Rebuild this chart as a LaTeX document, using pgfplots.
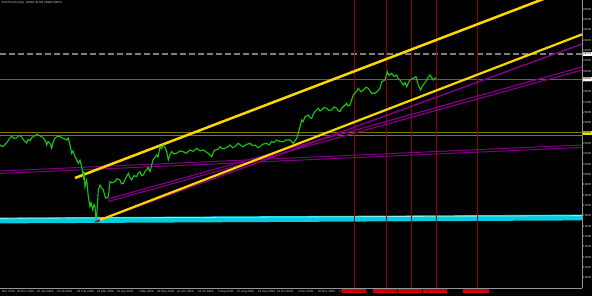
\documentclass[border=0pt]{standalone}
\usepackage{pgfplots}
\pgfplotsset{compat=1.18}
\usepackage{fontspec}
\setmainfont{Liberation Sans}
\definecolor{mtgreen}{RGB}{20,200,20}
\definecolor{mtgold}{RGB}{255,215,0}
\definecolor{mtpurple}{RGB}{128,0,128}
\definecolor{mtolive}{RGB}{128,118,0}
\definecolor{mtcyan}{RGB}{0,206,220}
\definecolor{mtcyanlight}{RGB}{150,232,242}
\definecolor{mtred}{RGB}{140,0,0}
\definecolor{boxred}{RGB}{230,0,0}
\definecolor{axgray}{RGB}{150,150,150}
\definecolor{lbl}{RGB}{200,200,200}
\begin{document}
\begin{tikzpicture}[x=1pt,y=1pt]
\path[use as bounding box, fill=black] (0,0) rectangle (592,296);
\begin{axis}[
  at={(0pt,296pt)}, anchor=north west,
  width=582pt, height=288pt, scale only axis,
  xmin=0, xmax=582, ymin=9822, ymax=37700,
  axis x line*=bottom, axis y line*=right,
  axis line style={axgray, line width=0.6pt, -},
  clip mode=individual,
  tick align=outside,
  major tick length=1.2pt,
  tick style={axgray, line width=0.4pt},
  scaled y ticks=false,
  ytick={10800,11800,12800,13800,14800,15800,16800,17800,18800,19800,20800,21800,22800,23800,25800,26800,27800,28800,29800,30800,31800,32800,33800,34800,35800,36800},
  yticklabel={\pgfmathprintnumber[fixed,precision=0,1000 sep={},assume math mode=true]{\tick}},
  yticklabel style={font=\fontsize{2.9}{3}\selectfont, text=lbl, inner sep=0.3pt, xshift=-0.5pt},
  xtick={1,16,36,56,76,96,116,137,156,176,197,217,236,257,276,297,317,338},
  xticklabels={Nov 2019,20 Dec 2019,15 Jan 2020,6 Feb 2020,28 Feb 2020,23 Mar 2020,15 Apr 2020,7 May 2020,29 May 2020,22 Jun 2020,14 Jul 2020,5 Aug 2020,27 Aug 2020,18 Sep 2020,12 Oct 2020,3 Nov 2020,25 Nov 2020,17 Dec 2020},
  xticklabel style={font=\fontsize{3}{3}\selectfont, text=lbl, anchor=north west, inner sep=0.8pt},
]
% cyan support band
\addplot[mtcyan, line width=5.8pt] coordinates {(0,16356) (582,16646)};
\addplot[mtcyanlight, line width=0.8pt] coordinates {(0,16560) (582,16830)};
% horizontal levels
\addplot[mtolive, line width=0.8pt] coordinates {(0,24922) (582,24922)};
\addplot[mtolive, line width=0.8pt] coordinates {(0,24632) (582,24632)};
\addplot[gray, line width=1.5pt, dash pattern=on 6pt off 3pt] coordinates {(0,32473) (582,32473)};
\addplot[gray!75!black, line width=0.5pt] coordinates {(0,30053) (582,30053)};
% vertical event lines
\addplot[mtred, line width=1pt] coordinates {(354,9822) (354,37700)};
\addplot[mtred, line width=1pt] coordinates {(386,9822) (386,37700)};
\addplot[mtred, line width=1pt] coordinates {(411,9822) (411,37700)};
\addplot[mtred, line width=1pt] coordinates {(436,9822) (436,37700)};
\addplot[mtred, line width=1pt] coordinates {(477,9822) (477,37700)};
% purple trend lines
\addplot[mtpurple, line width=1pt] coordinates {(0,21147) (582,23664)};
\addplot[mtpurple, line width=1pt] coordinates {(0,20905) (582,23422)};
\addplot[mtpurple, line width=1.2pt] coordinates {(108,18437) (582,31215)};
\addplot[mtpurple, line width=1.2pt] coordinates {(108,18195) (582,30925)};
\addplot[mtpurple, line width=1.5pt] coordinates {(95,16210) (582,33441)};
% channel lines
\addplot[mtgold, line width=2.2pt] coordinates {(100,16404) (582,34370)};
\addplot[mtgold, line width=2.5pt] coordinates {(75,20470) (582,39220)};
% price
\addplot[mtgreen, line width=1.1pt] coordinates {
(0,23664) (3,23500) (6.7,23887) (9,24200) (11.7,24535) (14,24300) (16.7,24342) (19,24600) (21.7,24438)
(24,24100) (26.7,23858) (28,24200) (30,24081) (32,24400) (35,24565) (37,24700) (40,24535) (42,24450)
(45,24148) (46.7,23664) (48,24000) (50,23829) (51.7,23345) (53,23900) (55,24313) (57,24500) (60,24468)
(63.3,24313) (66.7,24148) (68,24350) (70,23664) (71.7,22861) (73,23100) (75,22532) (78.3,21893)
(80,22200) (81.7,21564) (83.3,20596) (84,21100) (85,19628) (86.7,20276) (88.3,18660) (90,17692)
(91,18100) (92.7,17372) (94,17900) (95,17692) (96,16404) (96.7,16724) (98.3,19308) (100,19792)
(101.5,19500) (103.3,19308) (105,18700) (106,18505) (108.3,18660) (110,20111) (112,20000)
(115,20111) (117,20400) (120,20276) (121.5,19900) (123.3,19956) (126,20500) (128.3,20924)
(130,20500) (131.7,20276) (134,20700) (136.7,20596) (138,20900) (140,21080) (141.5,20700)
(143.3,20760) (145,21100) (146.7,21244) (148,21500) (150,21080) (153,22212) (156.7,22696)
(158,22500) (160,23500) (161.5,23300) (163.3,23664) (165,23400) (166.7,23016) (168.3,22212)
(170,22700) (171.7,23016) (174,22800) (176.7,22861) (180,23100) (183.3,23016) (186,22850)
(190,23180) (193,23050) (196.7,23345) (200,23100) (203.3,23180) (206,23000) (208.3,22861)
(211.7,22532) (213,22900) (215,23180) (218,23250) (220,23500) (222.5,23300) (225,23345)
(228,23500) (230,23664) (232.5,23400) (235,23500) (238.3,23829) (241,23600) (243.3,23500)
(246,23700) (250,23829) (252.5,23600) (255,23664) (258,23400) (260,23500) (263,23750)
(266.7,23829) (269,23650) (271.7,23984) (274,23900) (276.7,24148) (280,24000) (283.3,23984)
(286,24150) (290,24148) (293.3,23829) (296.7,24313) (298.3,24826) (300,25406) (301.7,26084)
(303,25900) (305,26403) (308.3,26568) (310,26300) (311.7,26248) (313,26600) (315,26886)
(318.3,27216) (320,26950) (321.7,27052) (324,27300) (326.7,27216) (329,27000) (331.7,27052)
(334,27350) (336.7,27216) (338,27000) (340,26886) (341.5,27200) (343.3,27372) (346.7,27701)
(348,27450) (350,27536) (353.3,28504) (356,28800) (358.3,29153) (361,28800) (363.3,28988)
(366,29250) (368.3,29153) (370,28900) (371.7,28669) (375,28669) (378,28900) (380,29153)
(381.7,29792) (385,29956) (387.3,30760) (389,30400) (391.7,30605) (394,30300) (396.7,30440)
(398,30100) (400,29956) (403.3,29472) (405,29700) (406.7,29308) (408.5,29700) (410,29956)
(413.3,30121) (416,30276) (418.3,29472) (420.7,28988) (422,29300) (423.3,29472) (426.7,29956)
(428,30200) (430,30440) (431.5,30200) (433.3,29956) (435,30150) (436.7,30121)
};
% anchors for labels drawn on top
\coordinate (v1) at (axis cs:354,9822);
\coordinate (v2) at (axis cs:385,9822);
\coordinate (v3) at (axis cs:410,9822);
\coordinate (v4) at (axis cs:435,9822);
\coordinate (v5) at (axis cs:476,9822);
\coordinate (p1) at (axis cs:582,32473);
\coordinate (p2) at (axis cs:582,30053);
\coordinate (p3) at (axis cs:582,24826);
\end{axis}
\foreach \c/\t in {v1/7 Jan 2021 00:00, v2/8 Feb 2021 00:00, v3/8 Mar 2021 00:00, v4/5 Apr 2021 00:00, v5/24 May 2021 00:00}
  \node[fill=boxred, text={rgb,255:red,90;green,0;blue,0}, font=\fontsize{3}{3}\selectfont, inner sep=0.6pt, minimum width=24pt, minimum height=4.5pt, anchor=north] at ([yshift=-0.8pt]\c) {\t};
\node[fill=white, text=black, font=\fontsize{2.9}{3}\selectfont, inner sep=0.5pt, minimum width=9pt, anchor=west] at ([xshift=0.5pt]p1) {32473};
\node[fill=white, text=black, font=\fontsize{2.9}{3}\selectfont, inner sep=0.5pt, minimum width=9pt, anchor=west] at ([xshift=0.5pt]p2) {30053};
\node[fill={rgb,255:red,230;green,230;blue,0}, text=black, font=\fontsize{2.9}{3}\selectfont, inner sep=0.5pt, minimum width=9pt, anchor=west] at ([xshift=0.5pt]p3) {24826};
\node[anchor=north west, text=lbl, font=\fontsize{3}{3}\selectfont, inner sep=0pt] at (1,295) {JP225Cash,Daily\ \ 30096 30120 29980 30053};
\end{tikzpicture}
\end{document}
